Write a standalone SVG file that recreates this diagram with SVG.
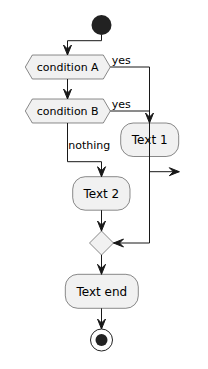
<svg xmlns="http://www.w3.org/2000/svg" width="208" height="369" viewBox="0 0 208 369">
<style>
.box{fill:#F1F1F1;stroke:#181818;stroke-width:0.5}
.t12{font-family:"DejaVu Sans",sans-serif;font-size:12px;fill:#000}
.t11{font-family:"DejaVu Sans",sans-serif;font-size:11px;fill:#000}
.c{fill:none;stroke:#181818;stroke-width:1}
</style>
<defs>
<marker id="arr" viewBox="-11 -5 12 10" refX="0" refY="0" markerWidth="12" markerHeight="10" markerUnits="userSpaceOnUse" orient="auto">
<path d="M0,0 L-10,-4 L-6,0 L-10,4 Z" fill="#181818" stroke="#181818" stroke-width="1"/>
</marker>
</defs>
<rect width="208" height="369" fill="#FFFFFF"/>
<g id="start"><circle cx="101.5" cy="25" r="10" fill="#222222"/></g>
<g id="condA">
<polygon class="box" points="25.3,67 32.3,55 103.3,55 110.3,67 103.3,79 32.3,79"/>
<text class="t11" x="67.7" y="71" text-anchor="middle">condition A</text>
</g>
<g id="condB">
<polygon class="box" points="25.3,111 32.3,99 103.3,99 110.3,111 103.3,123 32.3,123"/>
<text class="t11" x="67.7" y="115" text-anchor="middle">condition B</text>
</g>
<g id="text1">
<rect class="box" x="120.7" y="123" width="58" height="33.5" rx="12.5"/>
<text class="t12" x="149.7" y="144" text-anchor="middle">Text 1</text>
</g>
<g id="text2">
<rect class="box" x="72.7" y="176.7" width="57.3" height="33.5" rx="12.5"/>
<text class="t12" x="101.4" y="197.7" text-anchor="middle">Text 2</text>
</g>
<g id="merge"><polygon class="box" points="101.5,231 113.5,243 101.5,255 89.5,243"/></g>
<g id="textend">
<rect class="box" x="65.3" y="274.3" width="73" height="34" rx="12.5"/>
<text class="t12" x="101.8" y="295.7" text-anchor="middle">Text end</text>
</g>
<g id="stop">
<circle cx="101.5" cy="340" r="11" fill="none" stroke="#222222" stroke-width="1"/>
<circle cx="101.5" cy="340" r="6" fill="#222222"/>
</g>
<g id="connectors">
<path class="c" d="M101.5,35 V40.7 H67.5 V55" marker-end="url(#arr)"/>
<path class="c" d="M67.5,79 V99" marker-end="url(#arr)"/>
<path class="c" d="M110.3,67 H149.5 V123" marker-end="url(#arr)"/>
<path class="c" d="M110.3,111 H149.5"/>
<path class="c" d="M149.5,123 V243 H113.5" marker-end="url(#arr)"/>
<path class="c" d="M149.5,171.7 H179.3" marker-end="url(#arr)"/>
<path class="c" d="M67.5,123 V161.7 H101.5 V176.7" marker-end="url(#arr)"/>
<path class="c" d="M101.5,210.2 V231" marker-end="url(#arr)"/>
<path class="c" d="M101.5,255 V274.3" marker-end="url(#arr)"/>
<path class="c" d="M101.5,308.3 V329" marker-end="url(#arr)"/>
<text class="t11" x="111.7" y="63.5">yes</text>
<text class="t11" x="111.7" y="107.5">yes</text>
<text class="t11" x="68.3" y="149">nothing</text>
</g>
</svg>
